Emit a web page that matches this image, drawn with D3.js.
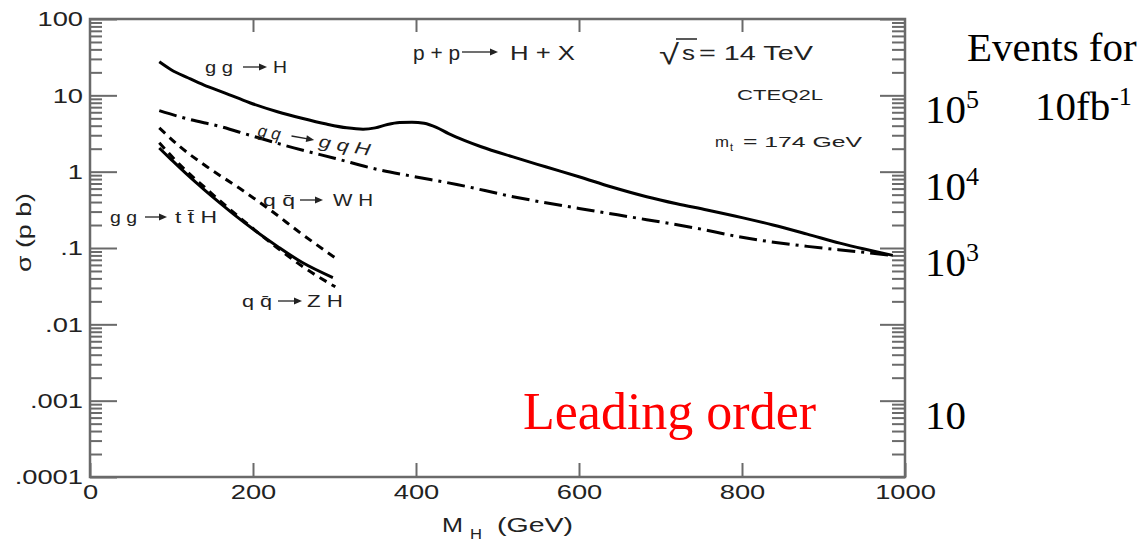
<!DOCTYPE html>
<html>
<head>
<meta charset="utf-8">
<script src="https://cdn.jsdelivr.net/npm/d3@7"></script>
<style>
  body { margin: 0; background: #fff; }
  svg { display: block; }
  text { font-family: "Liberation Sans", Arial, sans-serif; fill: #222; }
  .serif { font-family: "Liberation Serif", "Times New Roman", serif; fill: #000; }
</style>
</head>
<body>
<svg id="chart"></svg>
<script>
// Higgs mass (GeV) and cross sections (pb)
let ggH = [[85,27.5],[100,21.5],[120,17],[140,13.6],[165,10.8],[196,8.0],[230,6.1],[260,5.0],[290,4.2],[315,3.75],[335,3.6],[350,3.75],[365,4.15],[380,4.4],[395,4.45],[410,4.3],[425,3.8],[440,3.15],[460,2.55],[480,2.12],[519,1.56],[560,1.15],[601,0.85],[640,0.63],[683,0.47],[720,0.38],[757,0.315],[800,0.25],[838,0.2],[880,0.152],[920,0.116],[950,0.097],[985,0.08]]
let qqH = [[85,6.3],[120,4.9],[160,3.9],[196,3.0],[250,2.05],[300,1.5],[356,1.05],[393,0.88],[450,0.68],[519,0.47],[600,0.33],[683,0.235],[740,0.185],[800,0.138],[880,0.105],[940,0.09],[985,0.08]]
let WH = [[85,3.75],[110,2.14],[143,1.17],[184,0.6],[221,0.316],[258,0.158],[301,0.074]]
let ttH = [[85,2.04],[100,1.43],[120,0.9],[140,0.583],[160,0.385],[180,0.258],[200,0.177],[230,0.105],[260,0.065],[298,0.041]]
let ZH = [[85,2.4],[100,1.6],[120,0.98],[141,0.62],[160,0.41],[180,0.27],[200,0.18],[230,0.1],[260,0.058],[301,0.031]]

let xTicks = [0, 200, 400, 600, 800, 1000]
let yTicks = [100, 10, 1, 0.1, 0.01, 0.001, 0.0001]
let yTickLabels = ['100', '10', '1', '.1', '.01', '.001', '.0001']
let eventTicks = [1e5, 1e4, 1e3, 10]
let eventExp = ['5', '4', '3', '']
let lumi = 1e4 // 10 fb^-1 in pb^-1

let width = 1147
let height = 542
let plotLeft = 90, plotRight = 905, plotTop = 19, plotBottom = 477
let axisColor = '#6a6a6a'
let ink = '#222'
let stretch = 1.3 // the scanned lettering is wider than Liberation Sans

let svg = d3.select('#chart').attr('width', width).attr('height', height)

let xScale = d3.scaleLinear().domain([0, 1000]).range([plotLeft, plotRight])
let yScale = d3.scaleLog().domain([1e-4, 100]).range([plotBottom, plotTop])

let minorY = []
for (let e = -4; e < 2; e++) {
  for (let k = 2; k <= 9; k++) minorY.push(k * Math.pow(10, e))
}

let styleAxis = g => {
  g.select('.domain').remove()
  g.selectAll('.tick line').attr('stroke', axisColor).attr('stroke-width', 2)
}

let styleLabels = sel => {
  sel.style('font-size', '21px')
    .style('font-family', '"Liberation Sans", Arial, sans-serif')
    .attr('fill', ink)
    .each(function () {
      let w = this.getComputedTextLength()
      d3.select(this).attr('textLength', w * stretch).attr('lengthAdjust', 'spacingAndGlyphs')
    })
}

// left axis
svg.append('g').attr('transform', 'translate(' + plotLeft + ',0)')
  .call(d3.axisLeft(yScale).tickValues(yTicks).tickSize(-27).tickPadding(7)
    .tickFormat((d, i) => yTickLabels[i]))
  .call(styleAxis)
  .selectAll('text').call(styleLabels)

svg.append('g').attr('transform', 'translate(' + plotLeft + ',0)')
  .call(d3.axisLeft(yScale).tickValues(minorY).tickSize(-12).tickFormat(''))
  .call(styleAxis)

// right axis
svg.append('g').attr('transform', 'translate(' + plotRight + ',0)')
  .call(d3.axisRight(yScale).tickValues(yTicks).tickSize(-25).tickFormat(''))
  .call(styleAxis)
svg.append('g').attr('transform', 'translate(' + plotRight + ',0)')
  .call(d3.axisRight(yScale).tickValues(minorY).tickSize(-13).tickFormat(''))
  .call(styleAxis)

// bottom axis
svg.append('g').attr('transform', 'translate(0,' + plotBottom + ')')
  .call(d3.axisBottom(xScale).tickValues(xTicks).tickSize(-14).tickPadding(7).tickFormat(d3.format('d')))
  .call(styleAxis)
  .selectAll('text').call(styleLabels)

// top axis
svg.append('g').attr('transform', 'translate(0,' + plotTop + ')')
  .call(d3.axisBottom(xScale).tickValues(xTicks.slice(1, -1)).tickSize(13).tickFormat(''))
  .call(styleAxis)

// frame
svg.append('rect')
  .attr('x', plotLeft).attr('y', plotTop)
  .attr('width', plotRight - plotLeft).attr('height', plotBottom - plotTop)
  .attr('fill', 'none').attr('stroke', axisColor).attr('stroke-width', 2.5)

// curves
let line = d3.line()
  .x(d => xScale(d[0]))
  .y(d => yScale(d[1]))
  .curve(d3.curveMonotoneX)

let series = [
  { data: ggH, dash: null },
  { data: qqH, dash: '18,6,3,6' },
  { data: WH, dash: '8,6' },
  { data: ttH, dash: null },
  { data: ZH, dash: '8,6' }
]

svg.selectAll('path.curve')
  .data(series)
  .enter()
  .append('path')
  .attr('class', 'curve')
  .attr('d', d => line(d.data))
  .attr('fill', 'none')
  .attr('stroke', '#000')
  .attr('stroke-width', 3)
  .attr('stroke-dasharray', d => d.dash)

// text helpers
let txt = (parent, x, y, s, size, w) => {
  let t = parent.append('text')
    .attr('x', x).attr('y', y)
    .style('font-size', size + 'px')
    .attr('fill', ink)
    .text(s)
  if (w) t.attr('textLength', w).attr('lengthAdjust', 'spacingAndGlyphs')
  return t
}

let arrow = (parent, x0, x1, y) => {
  parent.append('line')
    .attr('x1', x0).attr('x2', x1 - 5).attr('y1', y).attr('y2', y)
    .attr('stroke', ink).attr('stroke-width', 1.3)
  parent.append('path')
    .attr('d', 'M' + x1 + ',' + y + 'L' + (x1 - 8) + ',' + (y - 3.5) + 'L' + (x1 - 8) + ',' + (y + 3.5) + 'Z')
    .attr('fill', ink)
}

// process labels: [left text, x, width, arrow from, arrow to, right text, x, width, baseline, size]
let procLabels = [
  ['g g', 205, 28, 243, 267, 'H', 273, 14, 73, 17],
  ['q q\u0304', 263, 32, 300, 323, 'W H', 333, 40, 206, 17],
  ['g g', 110, 27, 145, 167, 't t\u0304  H', 175, 42, 223, 17],
  ['q q\u0304', 242, 30, 278, 302, 'Z H', 307, 36, 307, 17],
  ['p + p', 413, 47, 462, 498, 'H + X', 510, 65, 60, 20]
]

procLabels.forEach(p => {
  txt(svg, p[1], p[8], p[0], p[9], p[2])
  arrow(svg, p[3], p[4], p[8] - Math.round(p[9] * 0.38))
  txt(svg, p[6], p[8], p[5], p[9], p[7])
})

// qq -> qqH label tilted along its curve
let tilt = svg.append('g').attr('transform', 'translate(257,136) rotate(10)')
txt(tilt, 0, 0, 'g q', 17, 23).style('font-style', 'italic')
arrow(tilt, 34, 57, -6)
txt(tilt, 62, 0, 'g q H', 17, 52).style('font-style', 'italic')

// sqrt(s) = 14 TeV
txt(svg, 659, 64, '\u221A', 28, 20)
txt(svg, 682, 60, 's', 20, 13)
svg.append('line').attr('x1', 676).attr('x2', 697).attr('y1', 39).attr('y2', 39)
  .attr('stroke', ink).attr('stroke-width', 1.5)
txt(svg, 699, 60, '= 14 TeV', 20, 114)

txt(svg, 737, 100, 'CTEQ2L', 14, 86)
txt(svg, 715, 147, 'm', 15, 14)
txt(svg, 730, 151, 't', 11)
txt(svg, 743, 147, '=  174 GeV', 15, 119)

// axis titles
txt(svg, 442, 532, 'M', 20, 21)
txt(svg, 470, 539, 'H', 15, 12)
txt(svg, 497, 532, '(GeV)', 20, 76)

let yt = svg.append('g').attr('transform', 'translate(31,272) rotate(-90)')
txt(yt, 0, 0, '\u03C3  (p b)', 20, 79)

// events for 10 fb^-1 scale
svg.append('text').attr('class', 'serif').attr('x', 967).attr('y', 61).style('font-size', '41px').text('Events for')

eventTicks.forEach((e, i) => {
  let t = svg.append('text').attr('class', 'serif')
    .attr('x', 925).attr('y', yScale(e / lumi) + 28)
    .style('font-size', '41px')
  t.append('tspan').text('10')
  if (eventExp[i]) t.append('tspan').attr('dy', -15).style('font-size', '26px').text(eventExp[i])
})

let fb = svg.append('text').attr('class', 'serif').attr('x', 1035).attr('y', 120).style('font-size', '41px')
fb.append('tspan').text('10fb')
fb.append('tspan').attr('dy', -15).style('font-size', '26px').text('-1')

svg.append('text').attr('class', 'serif')
  .attr('x', 523).attr('y', 429)
  .style('font-size', '52px')
  .style('fill', '#ff0000')
  .text('Leading order')
</script>
</body>
</html>
